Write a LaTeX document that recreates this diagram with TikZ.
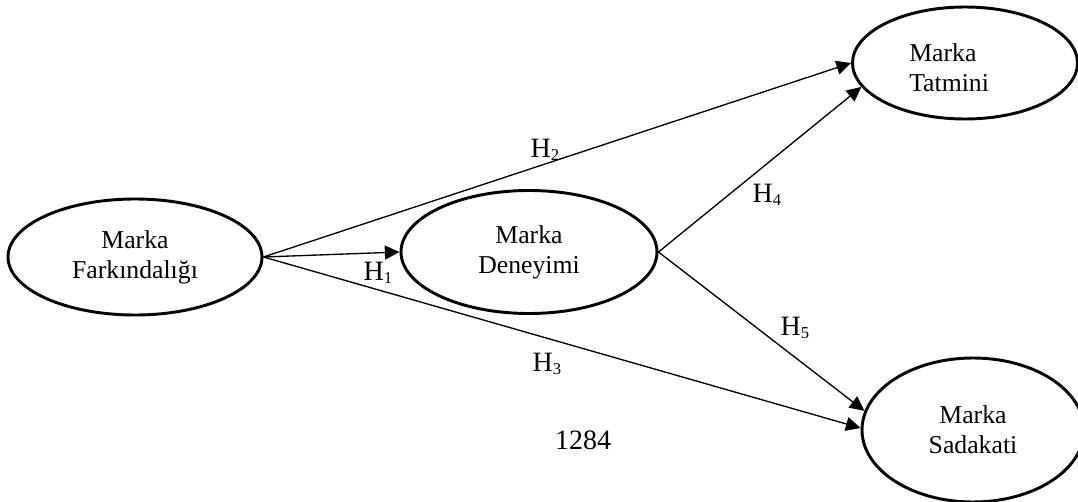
\documentclass[tikz,border=0pt]{standalone}
\usepackage{fontspec}
\setmainfont{Liberation Serif}
\usetikzlibrary{shapes.geometric,arrows.meta}
\newcommand\Hsub[1]{H\raisebox{-0.12em}{\fontsize{12.5}{12.5}\selectfont #1}}
\begin{document}
\begin{tikzpicture}[x=0.75pt,y=-0.75pt,
  latent/.style={draw, ellipse, line width=2.2pt, inner sep=0pt, align=center,
    font=\fontsize{19.3}{22.5}\selectfont},
  conn/.style={line width=1pt, -{Triangle[length=11pt,width=10.5pt]}},
  hyp/.style={font=\fontsize{21}{25}\selectfont, inner sep=0pt}]
\useasboundingbox (0,0) rectangle (1078,502);
\node[latent, minimum width=190.5pt, minimum height=87pt] (fa) at (135,257) {Marka\\Farkındalığı};
\node[latent, minimum width=192pt, minimum height=92.25pt] (de) at (529,252) {Marka\\Deneyimi};
\node[latent, minimum width=168.75pt, minimum height=84pt] (ta) at (965,63) {};
\node[align=left, anchor=west, inner sep=0pt, font=\fontsize{19.3}{22.5}\selectfont] (tatxt) at (909,68) {Marka\\Tatmini};
\node[latent, minimum width=166.5pt, minimum height=108pt] (sa) at (973,430) {Marka\\Sadakati};

\draw[conn] (fa.east) -- (de.west);
\draw[conn] (fa.east) -- (ta.west);
\draw[conn] (fa.east) -- (sa.179);
\draw[conn] (de.east) -- (ta.193);
\draw[conn] (de.east) -- (sa.170);

\node[hyp] (h1) at (378,273) {\Hsub{1}};
\node[hyp] (h2) at (545,150) {\Hsub{2}};
\node[hyp] (h3) at (547,364) {\Hsub{3}};
\node[hyp] (h4) at (767,195) {\Hsub{4}};
\node[hyp] (h5) at (795,328) {\Hsub{5}};
\node[hyp] (pg) at (583,440) {1284};
\end{tikzpicture}
\end{document}
